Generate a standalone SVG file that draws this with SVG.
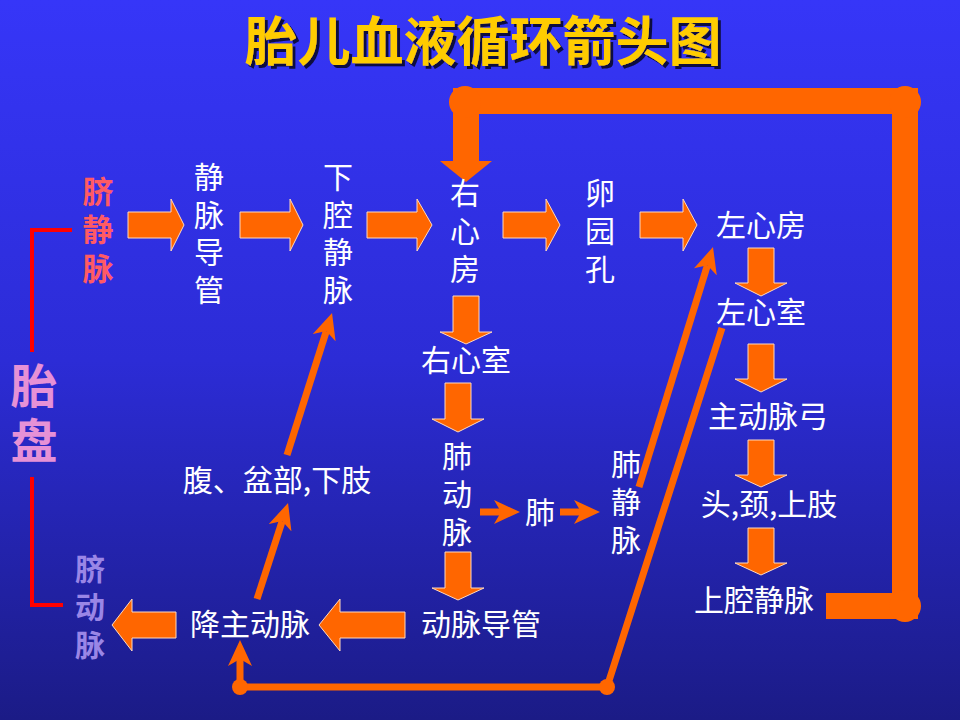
<svg xmlns="http://www.w3.org/2000/svg" width="960" height="720" viewBox="0 0 960 720">
<defs>
<linearGradient id="bg" x1="0" y1="0" x2="0" y2="1">
<stop offset="0" stop-color="#3636f8"/>
<stop offset="0.5" stop-color="#2c2cd6"/>
<stop offset="1" stop-color="#1b1b86"/>
</linearGradient>
<filter id="shadow" x="-5%" y="-20%" width="110%" height="140%">
<feDropShadow dx="3" dy="3" stdDeviation="0.6" flood-color="#101040" flood-opacity="1"/>
</filter>
<marker id="ah" viewBox="0 0 26 24" refX="7" refY="12" markerWidth="26" markerHeight="24" markerUnits="userSpaceOnUse" orient="auto">
<path d="M0,0 L26,12 L0,24 L7,12 Z" fill="#ff6600"/>
</marker>
<style>
.t{font-family:"Noto Sans CJK SC","Liberation Sans",sans-serif;font-size:30px;fill:#ffffff;text-anchor:middle}
.v{font-family:"Noto Sans CJK SC","Liberation Sans",sans-serif;font-size:30px;fill:#ffffff;writing-mode:vertical-rl;text-anchor:start;letter-spacing:8px}
.blk{fill:#ff6600;stroke:#ffd9bf;stroke-width:1}
.thin{fill:none;stroke:#ff6600;stroke-width:7}
.loop{fill:none;stroke:#ff6600;stroke-width:26;stroke-linejoin:miter}
.dot{fill:#ff6600}
.br{fill:none;stroke:#ff0000;stroke-width:4}
</style>
</defs>
<rect x="0" y="0" width="960" height="720" fill="url(#bg)"/>

<g id="title">
<text x="483" y="61" filter="url(#shadow)" style="font-family:'Noto Sans CJK SC',sans-serif;font-size:53px;font-weight:bold;fill:#ffcc00;text-anchor:middle">胎儿血液循环箭头图</text>
</g>

<g id="connectors">
<path class="br" d="M72,230 H32 V352"/>
<path class="br" d="M32,477 V605 H63"/>
<polygon class="blk" points="128,212 171,212 171,199 184,225 171,251 171,238 128,238"/>
<polygon class="blk" points="240,212 290,212 290,199 303,225 290,251 290,238 240,238"/>
<polygon class="blk" points="367,212 417,212 417,199 432,225 417,251 417,238 367,238"/>
<polygon class="blk" points="503,212 546,212 546,199 560,225 546,251 546,238 503,238"/>
<polygon class="blk" points="640,212 683,212 683,199 697,225 683,251 683,238 640,238"/>
<polygon class="blk" points="405,612 340,612 340,599 319,625 340,651 340,638 405,638"/>
<polygon class="blk" points="176,612 132,612 132,599 112,625 132,651 132,638 176,638"/>
<polygon class="blk" points="453,296 479,296 479,332 492,332 466,344 440,332 453,332"/>
<polygon class="blk" points="445,383 471,383 471,419 484,419 458,432 432,419 445,419"/>
<polygon class="blk" points="445,552 471,552 471,588 484,588 458,600 432,588 445,588"/>
<polygon class="blk" points="748,248 774,248 774,283 787,283 761,296 735,283 748,283"/>
<polygon class="blk" points="748,344 774,344 774,379 787,379 761,392 735,379 748,379"/>
<polygon class="blk" points="748,440 774,440 774,475 787,475 761,487 735,475 748,475"/>
<polygon class="blk" points="748,528 774,528 774,563 787,563 761,575 735,563 748,563"/>
<path class="loop" d="M826,606 H905 V101 H466 V163"/>
<polygon class="dot" points="440,161 492,161 466,182"/>
<circle class="dot" cx="465" cy="102" r="16"/>
<circle class="dot" cx="905" cy="102" r="16"/>
<circle class="dot" cx="905" cy="606" r="16"/>
<path class="thin" d="M257,599 L282.2,521.1" marker-end="url(#ah)"/>
<path class="thin" d="M287,455 L326.3,331.1" marker-end="url(#ah)"/>
<path class="thin" d="M639,487 L707.4,265.2" marker-end="url(#ah)"/>
<path class="thin" d="M722,328 L607,687 H240 V659" marker-end="url(#ah)"/>
<circle class="dot" cx="607" cy="687" r="8"/>
<circle class="dot" cx="240" cy="687" r="8"/>
<path class="thin" d="M480,512 H501" stroke-width="8" marker-end="url(#ah)"/>
<path class="thin" d="M560,512 H581" stroke-width="8" marker-end="url(#ah)"/>
</g>

<g id="node-qijingmai">
<text class="v" x="98" y="175.7" style="font-size:31px;font-weight:bold;fill:#ff5a64;letter-spacing:7.5px">脐静脉</text>
</g>
<g id="node-taipan">
<text class="v" x="34" y="361.6" style="font-size:47px;font-weight:bold;fill:#e691d6;letter-spacing:8px">胎盘</text>
</g>
<g id="node-qidongmai">
<text class="v" x="90" y="553.6" style="font-weight:bold;fill:#9a86e6">脐动脉</text>
</g>
<g id="node-jingmaidaoguan"><text class="v" x="209" y="161.6" style="letter-spacing:7.7px">静脉导管</text></g>
<g id="node-xiaqiangjingmai"><text class="v" x="338" y="161.6" style="letter-spacing:7.7px">下腔静脉</text></g>
<g id="node-youxinfang"><text class="v" x="465" y="177.6">右心房</text></g>
<g id="node-luanyuankong"><text class="v" x="600" y="177.6">卵园孔</text></g>
<g id="node-zuoxinfang"><text class="t" x="761" y="236">左心房</text></g>
<g id="node-zuoxinshi"><text class="t" x="761" y="323">左心室</text></g>
<g id="node-zhudongmaigong"><text class="t" x="768" y="427">主动脉弓</text></g>
<g id="node-toujingshangzhi"><text class="t" x="769" y="515">头,颈,上肢</text></g>
<g id="node-shangqiangjingmai"><text class="t" x="754" y="611">上腔静脉</text></g>
<g id="node-youxinshi"><text class="t" x="466" y="371">右心室</text></g>
<g id="node-feidongmai"><text class="v" x="457" y="440.6">肺动脉</text></g>
<g id="node-fei"><text class="t" x="540" y="523">肺</text></g>
<g id="node-feijingmai"><text class="v" x="626" y="448.6">肺静脉</text></g>
<g id="node-dongmaidaoguan"><text class="t" x="481" y="635">动脉导管</text></g>
<g id="node-jiangzhudongmai"><text class="t" x="250" y="635">降主动脉</text></g>
<g id="node-fupen"><text class="t" x="277" y="491">腹、盆部,下肢</text></g>
</svg>
